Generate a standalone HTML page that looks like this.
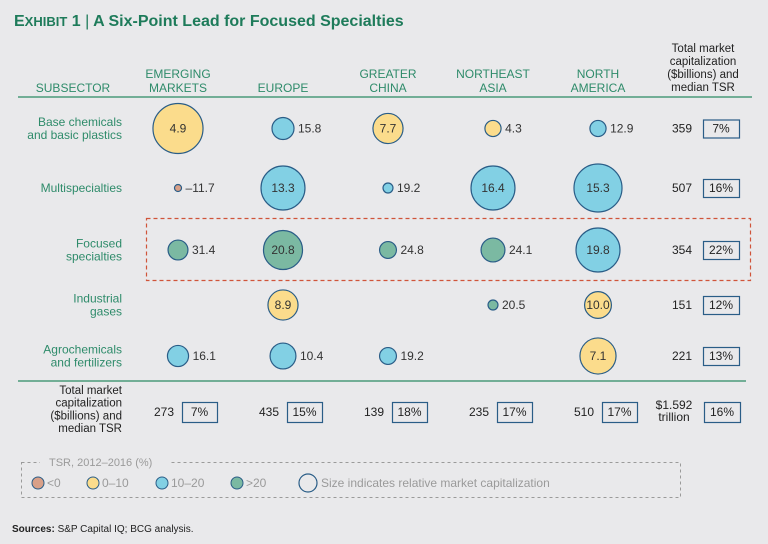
<!DOCTYPE html>
<html><head><meta charset="utf-8"><style>
html,body{margin:0;padding:0;background:#e9e9eb;}
svg{display:block;font-family:"Liberation Sans",sans-serif;}
</style></head><body>
<svg id="chart" width="768" height="544" viewBox="0 0 768 544">
<rect width="768" height="544" fill="#e9e9eb"/>
<text x="14" y="26" font-size="16" font-weight="bold" fill="#1e7b5a">E<tspan font-size="13">XHIBIT</tspan> 1 <tspan font-weight="normal">|</tspan> A Six-Point Lead for Focused Specialties</text>
<line x1="18" y1="97" x2="752" y2="97" stroke="#4a9a7a" stroke-width="1.5"/>
<line x1="18" y1="381" x2="746" y2="381" stroke="#4a9a7a" stroke-width="1.5"/>
<rect x="146.5" y="218.5" width="604" height="62" fill="none" stroke="#d0543a" stroke-width="1.2" stroke-dasharray="4,3"/>
<g id="g"></g>
<rect x="21.5" y="462.5" width="659" height="35" fill="none" stroke="#9a9a9a" stroke-dasharray="3,3"/>
<rect x="40" y="456" width="130" height="12" fill="#e9e9eb"/>
<text x="49" y="466" font-size="11" fill="#9a9a9a">TSR, 2012–2016 (%)</text>
<text x="12" y="532" font-size="10" fill="#222"><tspan font-weight="bold">Sources:</tspan> S&amp;P Capital IQ; BCG analysis.</text>
</svg>
<script>
const regions = ["EMERGING|MARKETS","EUROPE","GREATER|CHINA","NORTHEAST|ASIA","NORTH|AMERICA"];
const subsectors = ["Base chemicals|and basic plastics","Multispecialties","Focused|specialties","Industrial|gases","Agrochemicals|and fertilizers"];
const tsr = [
 [4.9,15.8,7.7,4.3,12.9],
 [-11.7,13.3,19.2,16.4,15.3],
 [31.4,20.8,24.8,24.1,19.8],
 [null,8.9,null,20.5,10.0],
 [16.1,10.4,19.2,null,7.1]
];
const marketCap = [
 [202,39,73,21,21],
 [4,156,8,156,186],
 [32,123,23,46,156],
 [null,73,null,8,58],
 [36,54,23,null,105]
];
const rowTotals = ["359","507","354","151","221"];
const rowTsr = ["7%","16%","22%","12%","13%"];
const colTotals = ["273","435","139","235","510"];
const colTsr = ["7%","15%","18%","17%","17%"];
const grandTotal = "$1.592|trillion";
const grandTsr = "16%";
const legendLabels = ["<0","0–10","10–20",">20"];

const NS="http://www.w3.org/2000/svg";
const g=document.getElementById('g');
const colX=i=>178+i*105;
const rowY=[128.5,188,250,305,356];
const rad=c=>Math.sqrt(c*3.1);
const fillFor=v=>v<0?"#d9a088":v<=10?"#fbdc8c":v<=20?"#82d0e4":"#7bb9a2";
function el(tag,at,txt){const e=document.createElementNS(NS,tag);for(const k in at)e.setAttribute(k,at[k]);if(txt!=null)e.textContent=txt;g.appendChild(e);return e;}
function lines(x,yLast,str,anchor,size,fill,name,lh){const p=str.split('|');p.forEach((s,i)=>{const t=el('text',{x:x,y:yLast-(p.length-1-i)*lh,'text-anchor':anchor,'font-size':size,fill:fill},s);});}
lines(73,92,"SUBSECTOR","middle",12,"#2e8b6a","subsector-header",14);
regions.forEach((r,i)=>lines(colX(i),92,r,"middle",12,"#2e8b6a","region-header",14));
lines(703,91,"Total market|capitalization|($billions) and|median TSR","middle",11.5,"#222","total-column-header",13);
subsectors.forEach((s,j)=>{const n=s.split('|').length;lines(122,rowY[j]+4+(n-1)*6.5,s,"end",12,"#2e8b6a","subsector-label",13);});
function box(x,y,w,h,txt,name){const b=el('rect',{x:x+.5,y:y+.5,width:w,height:h,fill:'none',stroke:'#2a5d87','stroke-width':1.2});const t=el('text',{x:x+w/2,y:y+h/2+4,'text-anchor':'middle','font-size':12,fill:'#222'},txt);}
tsr.forEach((row,j)=>{row.forEach((v,i)=>{if(v==null)return;const r=rad(marketCap[j][i]);const c=el('circle',{cx:colX(i),cy:rowY[j],r:r,fill:fillFor(v),stroke:'#2a5d87','stroke-width':1.2});const inside=marketCap[j][i]>=56;const s=(v<0?"\u2013"+Math.abs(v).toFixed(1):v.toFixed(1));const t=el('text',{x:inside?colX(i):colX(i)+r+4,y:rowY[j]+4,'text-anchor':inside?'middle':'start','font-size':12,fill:'#333'},s);});
 const t=el('text',{x:692,y:rowY[j]+4,'text-anchor':'end','font-size':12,fill:'#222'},rowTotals[j]);
 box(703,rowY[j]-9,36,18,rowTsr[j],'row-median-tsr');});
lines(122,432,"Total market|capitalization|($billions) and|median TSR","end",11.5,"#222","totals-row-label",12.7);
colTotals.forEach((v,i)=>{const t=el('text',{x:colX(i)-4,y:416,'text-anchor':'end','font-size':12,fill:'#222'},v);box(colX(i)+4,402,35,20,colTsr[i],'column-median-tsr');});
lines(674,421,grandTotal,"middle",12,"#222","grand-total",12);
box(704,402,36,20,grandTsr,'grand-median-tsr');
const legX=[38,93,162,237];const legVals=[-1,5,15,25];
legendLabels.forEach((l,i)=>{const c=el('circle',{cx:legX[i],cy:483,r:6,fill:fillFor(legVals[i]),stroke:'#2a5d87','stroke-width':1});const t=el('text',{x:legX[i]+9,y:487,'font-size':12,fill:'#9a9a9a'},l);});
const sc=el('circle',{cx:308,cy:483,r:9,fill:'none',stroke:'#2a5d87','stroke-width':1.2});


const st=el('text',{x:321,y:487,'font-size':12,fill:'#9a9a9a'},"Size indicates relative market capitalization");


</script>
</body></html>
